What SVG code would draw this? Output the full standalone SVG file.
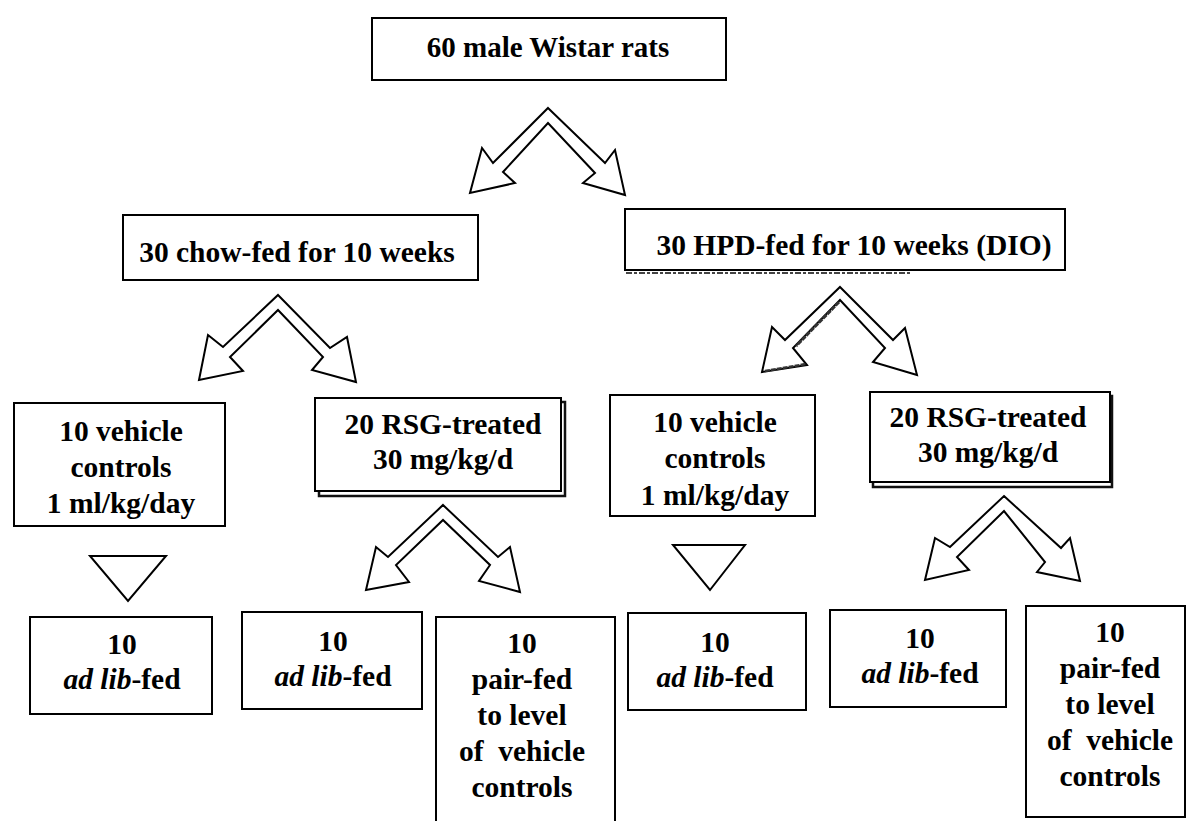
<svg xmlns="http://www.w3.org/2000/svg" width="1187" height="821" viewBox="0 0 1187 821">
  <style>
    .box { fill: #fff; stroke: #000; stroke-width: 2; }
    .shadow { fill: #fff; stroke: #111; stroke-width: 2.5; }
    .arrow { fill: #fff; stroke: #000; stroke-width: 2; stroke-linejoin: miter; }
    .t { font-family: "Liberation Serif", "DejaVu Serif", serif; font-weight: 700; font-size: 29.5px; text-anchor: middle; fill: #000; }
    .it { font-style: italic; }
    .grit { fill: none; stroke: #444; stroke-width: 2; stroke-dasharray: 6 2 3 2; }
  </style>
  <rect width="1187" height="821" fill="#fff"/>

  <!-- connectors: double-headed chevron arrows and plain triangles -->
  <g id="connectors">
    <polygon class="arrow" points="548,108 605,163 615,150 625,195 583,183 595,173 548,123 503,172 515,183 470,193 482,148 493,163"/>
    <polygon class="arrow" points="278,295 330,348 347,337 356,382 312,370 323,357 278,310 230,357 243,371 199,380 208,335 223,347"/>
    <polygon class="arrow" points="840,287 893,340 905,328 917,375 873,362 885,348 840,300 793,348 807,365 762,372 772,327 785,340"/>
    <polyline fill="none" stroke="#333" stroke-width="3" stroke-dasharray="5 1" points="839,302 796,346"/>
    <polyline fill="none" stroke="#333" stroke-width="2.5" stroke-dasharray="5 1" points="765,371 806,364"/>
    <polygon class="arrow" points="443,505 498,557 510,547 520,592 479,581 490,565 443,520 396,565 409,582 366,590 376,547 388,557"/>
    <polygon class="arrow" points="1004,496 1061,548 1070,538 1080,581 1037,572 1045,562 1004,511 957,557 969,570 925,580 935,538 950,547"/>
    <polygon class="arrow" points="90,556 166,556 128,601"/>
    <polygon class="arrow" points="673,545 745,545 710,590"/>
  </g>

  <g id="n-all">
    <rect class="box" x="372" y="18" width="354" height="62"/>
    <text class="t" x="548" y="57" font-family="Liberation Serif, serif" style="font-size:29px">60 male Wistar rats</text>
  </g>

  <g id="n-chow">
    <rect class="box" x="123" y="215" width="355" height="65"/>
    <text class="t" x="297" y="262" font-family="Liberation Serif, serif">30 chow-fed for 10 weeks</text>
  </g>

  <g id="n-hpd">
    <line class="grit" x1="626" y1="273" x2="910" y2="273"/>
    <rect class="box" x="625" y="209" width="440" height="61"/>
    <text class="t" x="854" y="255" font-family="Liberation Serif, serif">30 HPD-fed for 10 weeks (DIO)</text>
  </g>

  <g id="n-veh1" font-family="Liberation Serif, serif">
    <rect class="box" x="14" y="403" width="211" height="123"/>
    <text class="t" x="121" y="441">10 vehicle</text>
    <text class="t" x="121" y="477">controls</text>
    <text class="t" x="121" y="513">1 ml/kg/day</text>
  </g>

  <g id="n-rsg1">
    <rect class="shadow" x="319" y="402" width="246" height="94"/>
    <rect class="box" x="315" y="398" width="246" height="93"/>
    <text class="t" x="443" y="434">20 RSG-treated</text>
    <text class="t" x="443" y="469">30 mg/kg/d</text>
  </g>

  <g id="n-veh2">
    <rect class="box" x="610" y="395" width="205" height="121"/>
    <text class="t" x="715" y="432">10 vehicle</text>
    <text class="t" x="715" y="468">controls</text>
    <text class="t" x="715" y="505">1 ml/kg/day</text>
  </g>

  <g id="n-rsg2">
    <rect class="shadow" x="873" y="396" width="239" height="91"/>
    <rect class="box" x="870" y="392" width="240" height="90"/>
    <text class="t" x="988" y="427">20 RSG-treated</text>
    <text class="t" x="988" y="462">30 mg/kg/d</text>
  </g>

  <g id="n-adlib1">
    <rect class="box" x="30" y="617" width="182" height="97"/>
    <text class="t" x="122" y="654">10</text>
    <text class="t" x="122" y="689"><tspan class="it">ad lib</tspan>-fed</text>
  </g>

  <g id="n-adlib2">
    <rect class="box" x="242" y="612" width="180" height="97"/>
    <text class="t" x="333" y="651">10</text>
    <text class="t" x="333" y="686"><tspan class="it">ad lib</tspan>-fed</text>
  </g>

  <g id="n-pair1">
    <rect class="box" x="436" y="617" width="179" height="220"/>
    <text class="t" x="522" y="653">10</text>
    <text class="t" x="522" y="689">pair-fed</text>
    <text class="t" x="522" y="725">to level</text>
    <text class="t" x="522" y="761" xml:space="preserve">of  vehicle</text>
    <text class="t" x="522" y="797">controls</text>
  </g>

  <g id="n-adlib3">
    <rect class="box" x="628" y="613" width="178" height="97"/>
    <text class="t" x="715" y="652">10</text>
    <text class="t" x="715" y="687"><tspan class="it">ad lib</tspan>-fed</text>
  </g>

  <g id="n-adlib4">
    <rect class="box" x="830" y="610" width="176" height="97"/>
    <text class="t" x="920" y="648">10</text>
    <text class="t" x="920" y="683"><tspan class="it">ad lib</tspan>-fed</text>
  </g>

  <g id="n-pair2">
    <rect class="box" x="1026" y="606" width="159" height="211"/>
    <text class="t" x="1110" y="642">10</text>
    <text class="t" x="1110" y="678">pair-fed</text>
    <text class="t" x="1110" y="714">to level</text>
    <text class="t" x="1110" y="750" xml:space="preserve">of  vehicle</text>
    <text class="t" x="1110" y="786">controls</text>
  </g>
</svg>
